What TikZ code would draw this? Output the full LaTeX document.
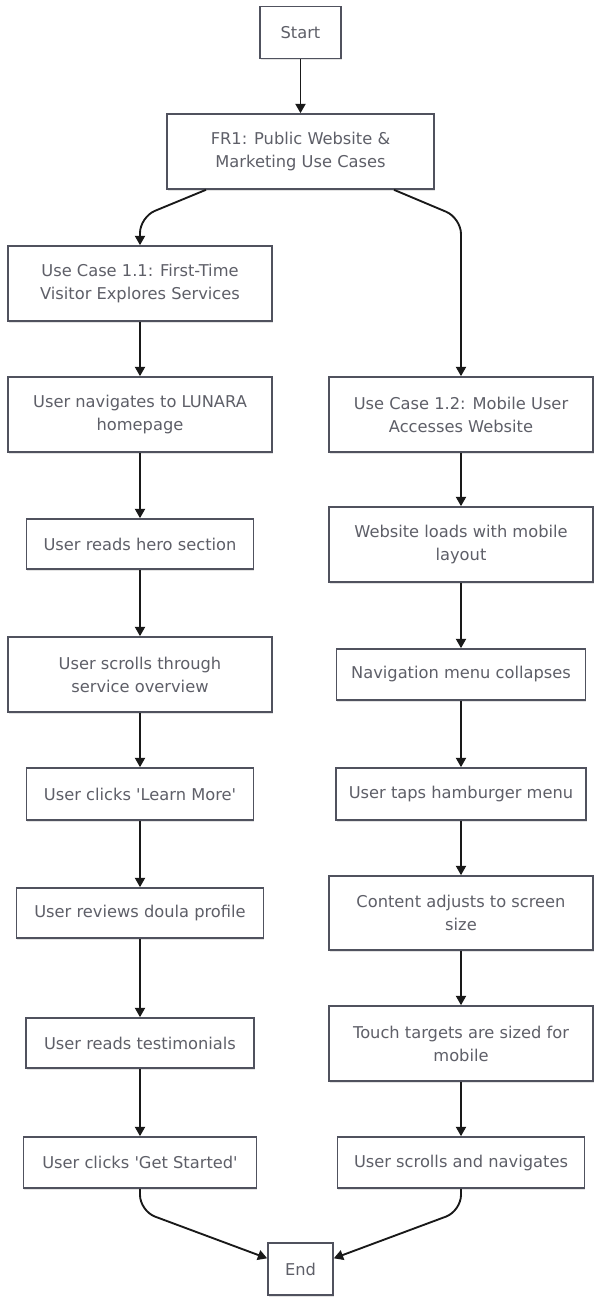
\documentclass[tikz,border=0pt]{standalone}
\usepackage{fontspec}
\setmainfont{DejaVu Sans}
\usetikzlibrary{arrows.meta,shadows}
\definecolor{bordercol}{HTML}{50525E}
\definecolor{textcol}{HTML}{5E5F68}
\tikzset{
  flowbox/.style={draw=bordercol, line width=1.2pt, fill=white, text=textcol,
    font=\fontsize{12.2}{17.3}\selectfont, align=center, inner sep=0pt,
    drop shadow={shadow xshift=0.6pt, shadow yshift=-1.2pt, fill=black!18, opacity=0.6}},
  arr/.style={draw=black!90, line width=1.4pt, -{Triangle[length=7pt,width=7.5pt]}},
}
\newcommand{\bx}[6]{\node[flowbox, minimum width=#4*0.75pt, minimum height=#5*0.75pt] (#1) at (#2,#3) {#6};}
\begin{document}
\begin{tikzpicture}[x=0.75pt,y=-0.75pt]
\useasboundingbox (0,0) rectangle (600,1311);
\bx{start}{300.5}{32.5}{81}{52}{Start}
\bx{fr1}{300.5}{151.5}{267}{75}{FR1: Public Website \&\\Marketing Use Cases}
\bx{uc11}{140}{283.5}{264}{75}{Use Case 1.1: First-Time\\Visitor Explores Services}
\bx{nav}{140}{414.5}{264}{75}{User navigates to LUNARA\\homepage}
\bx{hero}{140}{544}{227}{50}{User reads hero section}
\bx{scroll}{140}{674.5}{264}{75}{User scrolls through\\service overview}
\bx{learn}{140}{794}{227}{52}{User clicks \textquotesingle Learn More\textquotesingle}
\bx{doula}{140}{913}{247}{50}{User reviews doula profile}
\bx{testi}{140}{1043}{228}{50}{User reads testimonials}
\bx{getst}{140}{1162.5}{233}{51}{User clicks \textquotesingle Get Started\textquotesingle}
\bx{uc12}{461}{414.5}{264}{75}{Use Case 1.2: Mobile User\\Accesses Website}
\bx{loads}{461}{544.5}{264}{75}{Website loads with mobile\\layout}
\bx{navmenu}{461}{674.5}{249}{51}{Navigation menu collapses}
\bx{hamb}{461}{794}{250}{52}{User taps hamburger menu}
\bx{content}{461}{913}{264}{74}{Content adjusts to screen\\size}
\bx{touch}{461}{1043.5}{264}{75}{Touch targets are sized for\\mobile}
\bx{scrnav}{461}{1162.5}{247}{51}{User scrolls and navigates}
\bx{end}{300.5}{1269}{65}{52}{End}
\coordinate (b1) at (140,217);
\coordinate (b2) at (461,218);
\coordinate (b3) at (140,1211);
\coordinate (b4) at (461,1211);
\draw[arr] (start) -- (fr1);
\draw[arr, rounded corners=12pt] ([xshift=-70.9pt]fr1.south) -- (b1) -- (uc11.north);
\draw[arr, rounded corners=12pt] ([xshift=70.1pt]fr1.south) -- (b2) -- (uc12.north);
\draw[arr] (uc11) -- (nav);
\draw[arr] (nav) -- (hero);
\draw[arr] (hero) -- (scroll);
\draw[arr] (scroll) -- (learn);
\draw[arr] (learn) -- (doula);
\draw[arr] (doula) -- (testi);
\draw[arr] (testi) -- (getst);
\draw[arr] (uc12) -- (loads);
\draw[arr] (loads) -- (navmenu);
\draw[arr] (navmenu) -- (hamb);
\draw[arr] (hamb) -- (content);
\draw[arr] (content) -- (touch);
\draw[arr] (touch) -- (scrnav);
\draw[arr, rounded corners=12pt] (getst.south) -- (b3) -- ([yshift=8pt]end.west);
\draw[arr, rounded corners=12pt] (scrnav.south) -- (b4) -- ([yshift=8pt]end.east);
\end{tikzpicture}
\end{document}
